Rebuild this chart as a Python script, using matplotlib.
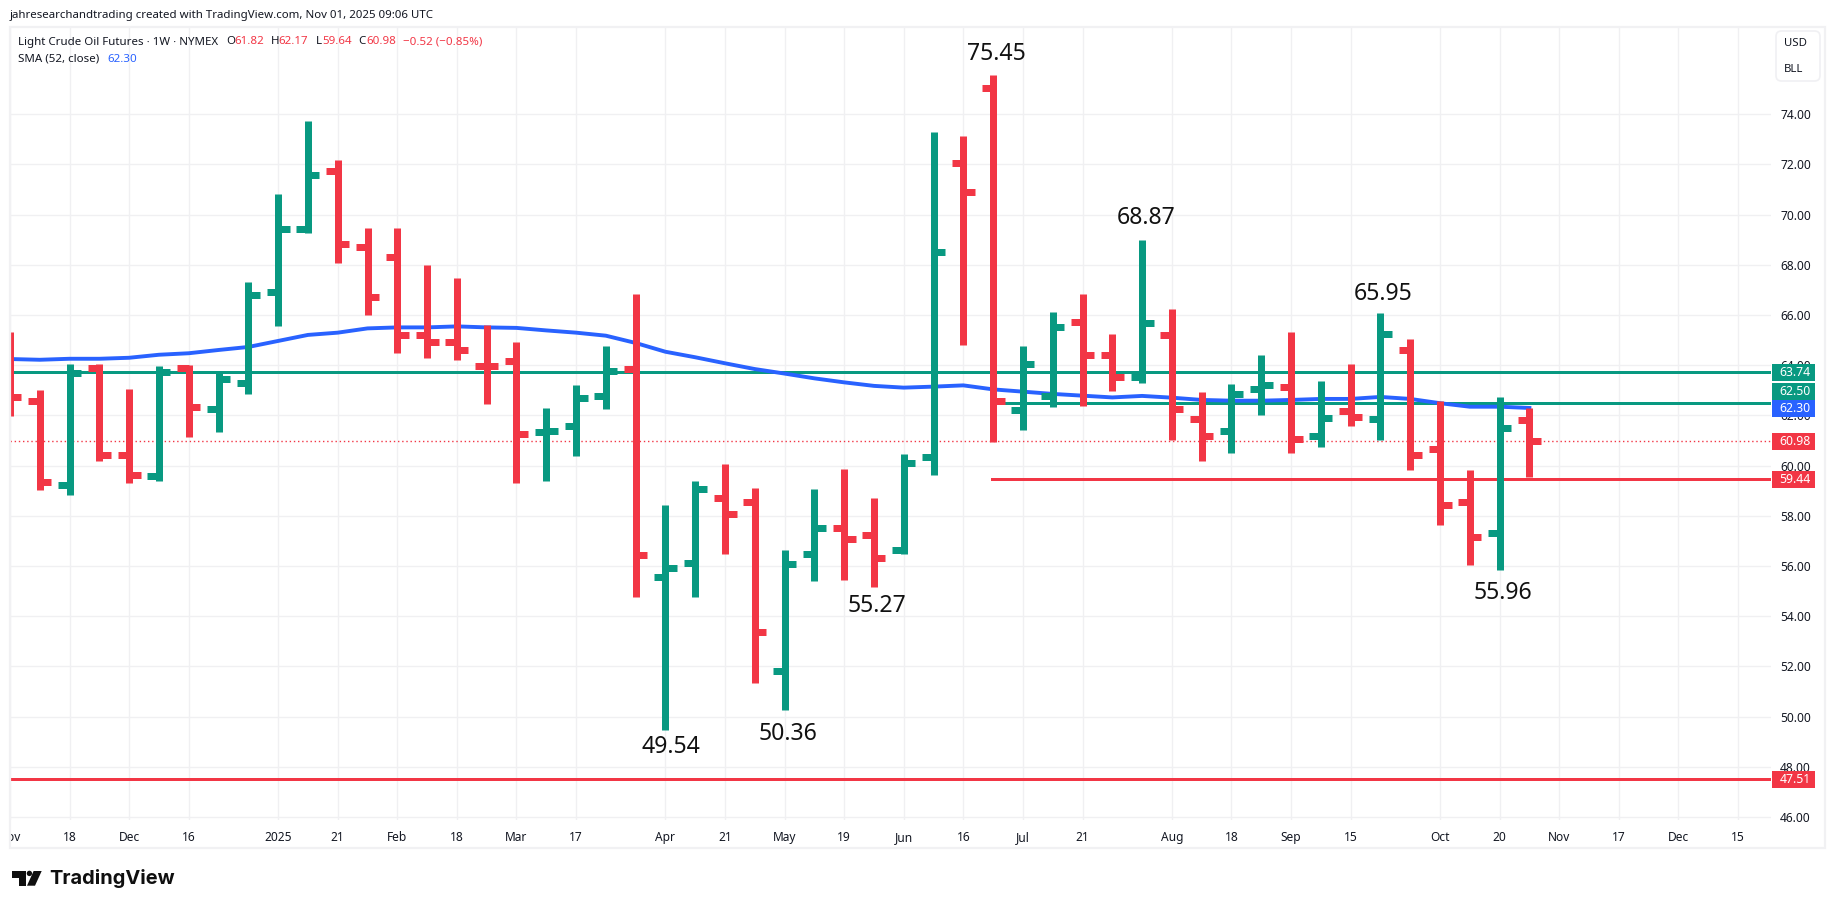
import matplotlib
matplotlib.use('Agg')
import matplotlib.pyplot as plt
from matplotlib.patches import Rectangle, FancyBboxPatch, Polygon, Circle
from matplotlib.transforms import Bbox

W, H = 1835, 909
GREEN = '#089981'
RED = '#F23645'
BLUE = '#2962FF'
INK = '#131722'
GRID = '#f0f0f2'

opens = [63.5, 62.57, 59.22, 63.89, 60.41, 59.58, 63.89, 62.25, 63.28, 66.91, 69.42, 71.73, 68.71,
         68.30, 65.20, 64.92, 63.98, 64.16, 61.33, 61.57, 62.77, 63.84, 55.55, 56.11, 58.70, 58.55,
         51.81, 56.47, 57.51, 57.23, 56.63, 60.34, 72.05, 75.04, 62.21, 62.77, 65.71, 64.40, 63.53,
         65.20, 61.85, 61.37, 63.04, 63.12, 61.17, 62.17, 61.85, 64.60, 60.65, 58.54, 57.31, 61.82]
highs = [65.33, 63.02, 64.05, 64.05, 63.06, 63.97, 64.01, 63.68, 67.32, 70.83, 73.73, 72.18, 69.47,
         69.47, 68.00, 67.48, 65.61, 64.93, 62.30, 63.22, 64.77, 66.84, 58.43, 59.39, 60.07, 59.11,
         56.64, 59.07, 59.87, 58.71, 60.47, 73.30, 73.14, 75.57, 64.77, 66.12, 66.84, 65.25, 68.99,
         66.24, 62.94, 63.26, 64.41, 65.33, 63.37, 64.05, 66.08, 65.05, 62.58, 59.83, 62.74, 62.30]
lows = [61.99, 59.03, 58.83, 60.19, 59.31, 59.39, 61.14, 61.34, 62.86, 65.57, 69.27, 68.08, 66.00,
        64.49, 64.29, 64.21, 62.46, 59.31, 59.39, 60.39, 62.26, 54.77, 49.45, 54.77, 56.48, 51.34,
        50.27, 55.41, 55.45, 55.17, 56.48, 59.63, 64.81, 60.95, 61.42, 62.34, 62.38, 62.98, 63.30,
        61.02, 60.19, 60.51, 62.02, 60.51, 60.75, 61.58, 61.02, 59.83, 57.64, 56.04, 55.85, 59.55]
closes = [62.73, 59.34, 63.68, 60.41, 59.62, 63.72, 62.33, 63.44, 66.79, 69.42, 71.57, 68.82, 66.71,
          65.20, 64.92, 64.60, 63.96, 61.25, 61.37, 62.69, 63.76, 56.43, 55.91, 59.06, 58.06, 53.36,
          56.07, 57.51, 57.07, 56.31, 60.10, 68.50, 70.89, 62.57, 64.04, 65.51, 64.40, 63.52, 65.67,
          62.25, 61.17, 62.85, 63.20, 61.05, 61.89, 61.93, 65.24, 60.41, 58.42, 57.15, 61.49, 60.98]
sma = [64.25, 64.22, 64.26, 64.26, 64.30, 64.42, 64.48, 64.61, 64.73, 64.97, 65.21, 65.30, 65.47,
       65.51, 65.51, 65.55, 65.51, 65.49, 65.39, 65.30, 65.18, 64.89, 64.54, 64.32, 64.08, 63.85,
       63.67, 63.48, 63.32, 63.18, 63.11, 63.15, 63.20, 63.04, 62.95, 62.86, 62.79, 62.72, 62.78,
       62.71, 62.62, 62.59, 62.59, 62.62, 62.66, 62.66, 62.74, 62.66, 62.49, 62.35, 62.35, 62.30]

time_ticks = [0, 2, 4, 6, 9, 11, 13, 15, 17, 19, 22, 24, 26, 28, 30, 32, 34, 36, 39, 41, 43, 45, 48, 50,
              52, 54, 56, 58]
time_labels = ['Nov', '18', 'Dec', '16', '2025', '21', 'Feb', '18', 'Mar', '17', 'Apr', '21', 'May', '19',
               'Jun', '16', 'Jul', '21', 'Aug', '18', 'Sep', '15', 'Oct', '20', 'Nov', '17', 'Dec', '15']
price_ticks = list(range(46, 76, 2))

level_upper = 63.74
level_mid = 62.50
level_support = 59.46
level_low = 47.51
last_close = 60.98
level_start = 33

note_labels = ['75.45', '68.87', '65.95', '49.54', '50.36', '55.27', '55.96']
note_x = [33.1, 38.13, 46.09, 22.18, 26.1, 29.1, 50.1]
note_y = [76.41, 69.86, 66.85, 48.78, 49.31, 54.40, 54.94]

# label text, box colour, centre of the tag in pixels
tag_labels = ['63.74', '62.50', '62.30', '60.98', '59.44', '47.51']
tag_colors = [GREEN, GREEN, BLUE, RED, RED, RED]
tag_centers = [372.5, 391.5, 408.5, 441.5, 479.5, 779.5]

plt.rcParams['font.family'] = ['Noto Sans', 'DejaVu Sans']


def fx(x):
    return x / W


def fy(y):
    return 1 - y / H


def fig_text(fig, x, y, s, color=INK, size=8.3, **kw):
    fig.text(fx(x), fy(y), s, color=color, fontsize=size, va='center', **kw)


fig = plt.figure(figsize=(W / 100, H / 100), dpi=100, facecolor='white')
ax = fig.add_axes([fx(10), fy(820), (1771 - 10) / W, (820 - 27) / H])
ax.set_xlim(0.0168, 59.11)
ax.set_ylim(45.884, 77.478)
for s in ax.spines.values():
    s.set_visible(False)

# grid and axes text
ax.set_xticks(time_ticks, time_labels)
ax.set_yticks(price_ticks, ['%.2f' % p for p in price_ticks])
ax.yaxis.tick_right()
ax.tick_params(axis='both', length=0, labelsize=8.6, labelcolor=INK)
ax.tick_params(axis='y', pad=6.5)
ax.tick_params(axis='x', pad=7.6)
ax.grid(True, color=GRID, linewidth=1.0)
ax.set_axisbelow(True)
left_clip = Bbox([[10, 0], [W, H]])
first = ax.get_xticklabels()[0]
first.set_clip_box(left_clip)
first.set_clip_on(True)

# levels and moving average sit under the bars
ax.axhline(level_upper, color=GREEN, lw=2.16, zorder=2)
ax.plot([level_start, 59.11], [level_mid, level_mid], color=GREEN, lw=2.16, zorder=2)
ax.plot([level_start - 0.05, 59.11], [level_support, level_support], color=RED, lw=2.16, zorder=2)
ax.axhline(level_low, color=RED, lw=2.16, zorder=2)
ax.axhline(last_close, color=RED, lw=1.0, ls=(0, (1, 2)), zorder=2)
ax.plot(range(len(sma)), sma, color=BLUE, lw=2.8, zorder=2.5, solid_joinstyle='round')

# OHLC bars
tick = 11.5 / 29.8
for i in range(len(closes)):
    c = GREEN if closes[i] >= opens[i] else RED
    ax.vlines(i, lows[i], highs[i], color=c, lw=5.04, capstyle='butt', zorder=3)
    ax.hlines(opens[i], i - tick, i, color=c, lw=5.04, capstyle='butt', zorder=3)
    ax.hlines(closes[i], i, i + tick, color=c, lw=5.04, capstyle='butt', zorder=3)

for x, y, s in zip(note_x, note_y, note_labels):
    ax.text(x, y, s, fontsize=16.6, color='#111111', ha='center', va='center', zorder=4)

# outer frame
fig.add_artist(Rectangle((fx(10), fy(848)), (1825 - 10) / W, (848 - 27) / H, transform=fig.transFigure,
                         fill=False, edgecolor='#f1f1f3', lw=1.6, zorder=1))

# price tags
for s, c, yc in zip(tag_labels, tag_colors, tag_centers):
    fig.add_artist(Rectangle((fx(1772), fy(yc + 8.5)), 43 / W, 17 / H, transform=fig.transFigure,
                             facecolor=c, edgecolor='none', zorder=5))
    fig.text(fx(1795), fy(yc), s, color='white', fontsize=8.8, fontweight='bold', ha='center', va='center',
             zorder=6)

# currency box
fig.add_artist(FancyBboxPatch((fx(1776), fy(81)), 44 / W, 50 / H, transform=fig.transFigure,
                              boxstyle='round,pad=0,rounding_size=0.003', mutation_aspect=2.0,
                              facecolor='white', edgecolor='#f0f0f3', lw=1.2, zorder=5))
fig_text(fig, 1784, 43, 'USD', zorder=6, size=8.2)
fig_text(fig, 1784, 70, 'BLL', zorder=6, size=8.2)

# header and legend
fig_text(fig, 10, 15.5, 'jahresearchandtrading created with TradingView.com, Nov 01, 2025 09:06 UTC', size=8.25)
fig_text(fig, 18, 42, 'Light Crude Oil Futures · 1W · NYMEX')
for x, s, c in [(226, 'O', INK), (234, '61.82', RED), (271, 'H', INK), (278, '62.17', RED),
                (316, 'L', INK), (322, '59.64', RED), (358, 'C', INK), (366, '60.98', RED),
                (403, '−0.52 (−0.85%)', RED)]:
    fig_text(fig, x, 42, s, color=c)
fig_text(fig, 18, 59, 'SMA (52, close)')
fig_text(fig, 107, 59, '62.30', color=BLUE)

# TradingView logo
logo = '#0f0f0f'
fig.add_artist(Polygon([(fx(a), fy(b)) for a, b in [(12.3, 871), (25.7, 871), (25.7, 885.7), (19.4, 885.7),
                                                    (19.4, 877.5), (12.3, 877.5)]],
                       transform=fig.transFigure, facecolor=logo, edgecolor='none'))
fig.add_artist(Polygon([(fx(a), fy(b)) for a, b in [(33.6, 871), (41.7, 871), (35, 885.7), (27, 885.7)]],
                       transform=fig.transFigure, facecolor=logo, edgecolor='none'))
fig.add_artist(Circle((29.4, H - 873.4), 2.7, transform=None, facecolor=logo, edgecolor='none'))
fig.text(fx(49), fy(879), 'TradingView', color=logo, fontsize=14.4, fontweight='bold', family='Inter',
         va='center')

fig.savefig('out.png', dpi=100, facecolor='white')
